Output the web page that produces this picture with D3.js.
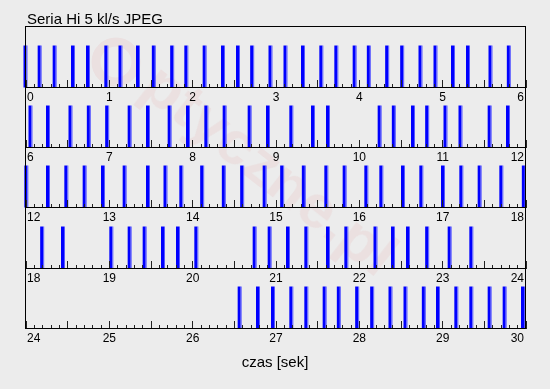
<!DOCTYPE html>
<html>
<head>
<meta charset="utf-8">
<script src="https://cdn.jsdelivr.net/npm/d3@7"></script>
<style>
  body { margin: 0; background: #ececec; }
  svg { display: block; font-family: "Liberation Sans", Arial, sans-serif; }
</style>
</head>
<body>
<svg width="550" height="389"></svg>
<script>
// Frame times in seconds
const frameTimes = [
  0.00, 0.17, 0.35, 0.57, 0.75, 0.97, 1.14, 1.35, 1.54, 1.76, 1.93, 2.15, 2.37, 2.55, 2.72, 2.94,
  3.12, 3.33, 3.55, 3.73, 3.95, 4.12, 4.34, 4.52, 4.74, 4.92, 5.13, 5.31, 5.58, 5.80,
  6.06, 6.27, 6.54, 6.76, 6.98, 7.25, 7.47, 7.73, 7.95, 8.17, 8.39, 8.69, 8.91,
  9.19, 9.45, 9.63, 10.25, 10.42, 10.65, 10.82, 11.04, 11.22, 11.57, 11.79,
  12.01, 12.27, 12.49, 12.71, 12.93, 13.19, 13.47, 13.68, 13.87, 14.12, 14.38, 14.60, 14.87,
  15.08, 15.34, 15.61, 15.83, 16.09, 16.27, 16.53, 16.75, 17.01, 17.23, 17.45, 17.71, 17.98,
  18.20, 18.45, 19.03, 19.25, 19.43, 19.65, 19.83, 20.05, 20.75, 20.93,
  21.15, 21.37, 21.63, 21.85, 22.20, 22.41, 22.59, 22.82, 23.09, 23.35,
  26.57, 26.79, 26.97, 27.19, 27.37, 27.59, 27.76, 27.98, 28.16, 28.38, 28.56, 28.78,
  28.95, 29.17, 29.35, 29.57, 29.75, 29.97
];
const rowStarts = [0, 6, 12, 18, 24];
const rowSpan = 6;
const titleText = "Seria Hi 5 kl/s JPEG";
const axisTitle = "czas [sek]";

const svg = d3.select('svg');

// faint watermark in the background
const wm = svg.append('g').attr('opacity', 0.05);
wm.append('circle')
  .attr('cx', 116).attr('cy', 62).attr('r', 20)
  .attr('fill', 'none').attr('stroke', '#d00').attr('stroke-width', 9);
wm.append('text')
  .attr('transform', 'translate(138,92) rotate(38)')
  .attr('font-size', 62).attr('font-weight', 'bold')
  .attr('fill', '#d00')
  .text('ptyczne.pl');

// title
svg.append('text')
  .attr('x', 27).attr('y', 24)
  .attr('font-size', 15)
  .attr('fill', '#000')
  .text(titleText);

// row positions
const rowScale = d3.scaleLinear().domain([0, rowStarts.length]).range([26.3, 328.05]);

rowStarts.forEach((start, i) => {
  const rowTop = i === 0 ? 26.5 : Math.round(rowScale(i)) + 0.5;
  const rowBottom = Math.round(rowScale(i + 1)) + 0.5;

  const x = d3.scaleLinear().domain([start, start + rowSpan]).range([25.5, 525.5]);
  const y = d3.scaleLinear().domain([0, 1.435]).range([rowBottom, rowBottom - 60.25]);

  const g = svg.append('g');

  // bars, one per frame
  const rowFrames = frameTimes.filter(t => t >= start && t < start + rowSpan);
  g.selectAll('rect.bar')
    .data(rowFrames)
    .join('rect')
    .attr('class', 'bar')
    .attr('x', d => x(d) - 2)
    .attr('y', y(1))
    .attr('width', 3)
    .attr('height', y(0) - y(1))
    .attr('fill', '#0000ff');
  g.selectAll('rect.edge')
    .data(rowFrames)
    .join('rect')
    .attr('class', 'edge')
    .attr('x', d => x(d) + 1)
    .attr('y', y(1))
    .attr('width', 1)
    .attr('height', y(0) - y(1))
    .attr('fill', '#5a5aff');

  // minor ticks every 0.1 s
  const minor = d3.axisBottom(x)
    .tickValues(d3.range(0, 61).map(k => start + k / 10))
    .tickSize(-4).tickSizeOuter(0).tickFormat('');
  g.append('g').attr('transform', `translate(0,${rowBottom})`).call(minor);

  // half second ticks
  const half = d3.axisBottom(x)
    .tickValues(d3.range(0, 13).map(k => start + k / 2))
    .tickSize(-8).tickSizeOuter(0).tickFormat('');
  g.append('g').attr('transform', `translate(0,${rowBottom})`).call(half);

  // whole seconds with labels
  const major = d3.axisBottom(x)
    .tickValues(d3.range(start, start + rowSpan + 1))
    .tickSize(-8).tickSizeOuter(0).tickPadding(5)
    .tickFormat(d3.format('d'));
  const ax = g.append('g').attr('transform', `translate(0,${rowBottom})`).call(major);
  ax.selectAll('text')
    .attr('font-size', 12)
    .attr('font-family', '"Liberation Sans", Arial, sans-serif')
    .attr('fill', '#000');
  ax.selectAll('.tick').filter(d => d === start).select('text')
    .attr('text-anchor', 'start').attr('dx', 1);
  ax.selectAll('.tick').filter(d => d === start + rowSpan).select('text')
    .attr('text-anchor', 'end').attr('dx', -2);

  svg.selectAll('.domain').remove();
  g.selectAll('.tick line').attr('stroke', '#222').attr('shape-rendering', 'crispEdges');

  // row frame
  g.append('rect')
    .attr('x', 25.5).attr('y', rowTop)
    .attr('width', 500).attr('height', rowBottom - rowTop)
    .attr('fill', 'none').attr('stroke', '#000')
    .attr('shape-rendering', 'crispEdges');
});

// x axis title
svg.append('text')
  .attr('x', 275).attr('y', 367)
  .attr('text-anchor', 'middle')
  .attr('font-size', 15)
  .attr('fill', '#000')
  .text(axisTitle);
</script>
</body>
</html>
